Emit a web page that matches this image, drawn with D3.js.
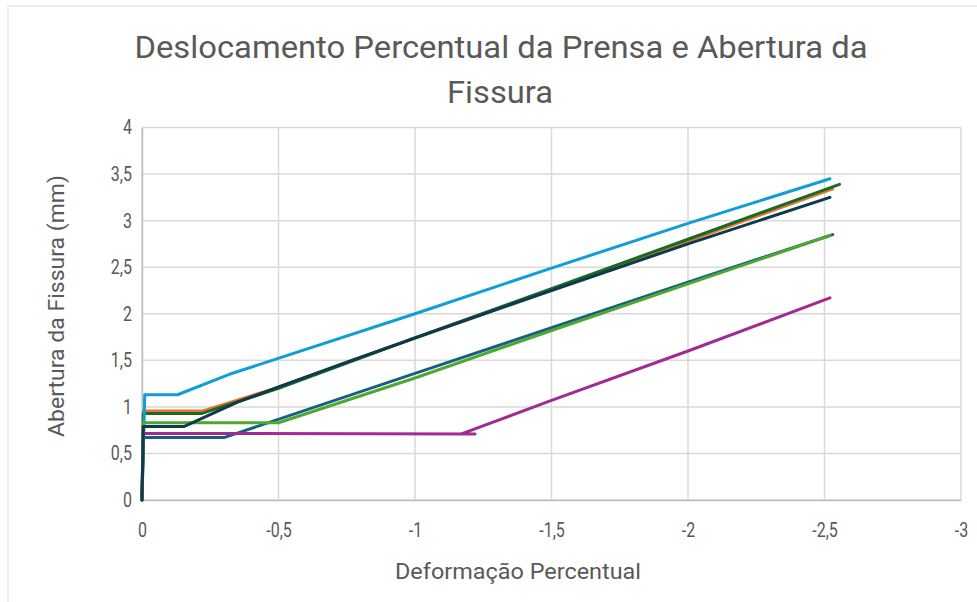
<!DOCTYPE html>
<html>
<head>
<meta charset="utf-8">
<script src="https://cdn.jsdelivr.net/npm/d3@7/dist/d3.min.js"></script>
<style>
  html, body { margin: 0; padding: 0; background: #fff; }
  svg { display: block; }
  text { font-family: Roboto, sans-serif; fill: #595959; }
</style>
</head>
<body>
<svg id="chart" width="977" height="602"></svg>
<script>
// ---- data (x = Deformação Percentual, y = Abertura da Fissura mm) ----
const seriesNames = ["S1", "S2", "S3", "S4", "S5", "S6", "S7"];
const seriesColors = ["#156082", "#E97132", "#196B24", "#0F9ED5", "#A02B93", "#4EA72E", "#0D3A4E"];

const s1x = [0, -0.005, -0.30, -1.0, -1.5, -2.0, -2.53];
const s1y = [0, 0.67, 0.67, 1.36, 1.85, 2.34, 2.85];

const s2x = [0, -0.005, -0.22, -0.5, -1.0, -1.5, -2.0, -2.53];
const s2y = [0, 0.955, 0.955, 1.21, 1.74, 2.26, 2.78, 3.34];

const s3x = [0, -0.005, -0.22, -0.5, -1.0, -1.5, -2.0, -2.555];
const s3y = [0, 0.93, 0.93, 1.2, 1.74, 2.27, 2.8, 3.39];

const s4x = [0, -0.01, -0.13, -0.32, -1.0, -1.5, -2.0, -2.52];
const s4y = [0, 1.13, 1.13, 1.35, 2.0, 2.49, 2.97, 3.45];

const s5x = [0, -0.005, -1.22, -1.17, -1.5, -2.0, -2.52];
const s5y = [0, 0.715, 0.71, 0.71, 1.07, 1.6, 2.17];

const s6x = [0, -0.005, -0.5, -1.0, -1.5, -2.0, -2.52];
const s6y = [0, 0.83, 0.83, 1.31, 1.82, 2.32, 2.84];

const s7x = [0, -0.005, -0.155, -0.35, -0.5, -0.75, -1.0, -1.5, -2.0, -2.52];
const s7y = [0, 0.79, 0.79, 1.05, 1.215, 1.48, 1.74, 2.25, 2.75, 3.25];

const xTicks = [0, -0.5, -1, -1.5, -2, -2.5, -3];
const xTickLabels = ["0", "-0,5", "-1", "-1,5", "-2", "-2,5", "-3"];
const yTicks = [0, 0.5, 1, 1.5, 2, 2.5, 3, 3.5, 4];
const yTickLabels = ["0", "0,5", "1", "1,5", "2", "2,5", "3", "3,5", "4"];

const titleLines = ["Deslocamento Percentual da Prensa e Abertura da", "Fissura"];
const xTitle = "Deformação Percentual";
const yTitle = "Abertura da Fissura (mm)";

// ---- layout ----
const svg = d3.select("#chart");
const W = 977, H = 602;
const plot = { left: 142, right: 961, top: 127.5, bottom: 500 };

const x = d3.scaleLinear().domain([0, -3]).range([plot.left, plot.right]);
const y = d3.scaleLinear().domain([0, 4]).range([plot.bottom, plot.top]);

// chart border
svg.append("path")
  .attr("d", `M8,${H + 2} L8,6 L${W + 2},6`)
  .attr("fill", "none").attr("stroke", "#d9d9d9").attr("stroke-width", 1);

// title
svg.append("text").attr("x", 501).attr("y", 58).attr("text-anchor", "middle")
  .attr("font-size", 31).attr("textLength", 733).attr("lengthAdjust", "spacingAndGlyphs")
  .text(titleLines[0]);
svg.append("text").attr("x", 500).attr("y", 103).attr("text-anchor", "middle")
  .attr("font-size", 31).attr("textLength", 106).attr("lengthAdjust", "spacingAndGlyphs")
  .text(titleLines[1]);

// gridlines
const gx = svg.append("g");
gx.selectAll("line.h").data(yTicks).join("line")
  .attr("x1", plot.left).attr("x2", plot.right)
  .attr("y1", d => y(d)).attr("y2", d => y(d))
  .attr("stroke", "#d9d9d9").attr("stroke-width", 1.5);
gx.selectAll("line.v").data(xTicks).join("line")
  .attr("y1", plot.top).attr("y2", plot.bottom)
  .attr("x1", d => x(d)).attr("x2", d => x(d))
  .attr("stroke", "#d9d9d9").attr("stroke-width", 1.5);

// axes
const xAxis = d3.axisBottom(x).tickValues(xTicks)
  .tickFormat((d, i) => xTickLabels[i]).tickSize(0).tickPadding(23);
const gxa = svg.append("g").attr("transform", `translate(0,${plot.bottom})`).call(xAxis);
gxa.select(".domain").attr("stroke", "#bfbfbf").attr("stroke-width", 1.5);
gxa.selectAll("text").attr("font-size", 20).attr("fill", "#595959")
  .style("font-family", "Roboto, sans-serif");

const yAxis = d3.axisLeft(y).tickValues(yTicks)
  .tickFormat((d, i) => yTickLabels[i]).tickSize(0).tickPadding(10);
const gya = svg.append("g").attr("transform", `translate(${plot.left},0)`).call(yAxis);
gya.select(".domain").attr("stroke", "#bfbfbf").attr("stroke-width", 1.5);
gya.selectAll("text").attr("font-size", 20).attr("fill", "#595959")
  .style("font-family", "Roboto, sans-serif");

// emulate the narrow Office font on tick labels
svg.selectAll(".tick text").each(function () {
  const len = this.getComputedTextLength();
  d3.select(this).attr("textLength", len * 0.8).attr("lengthAdjust", "spacingAndGlyphs");
});

// axis titles
svg.append("text").attr("x", 518).attr("y", 579).attr("text-anchor", "middle")
  .attr("font-size", 22).attr("textLength", 246).attr("lengthAdjust", "spacingAndGlyphs")
  .text(xTitle);
svg.append("text").attr("transform", "translate(64,306) rotate(-90)")
  .attr("text-anchor", "middle").attr("font-size", 22)
  .attr("textLength", 262).attr("lengthAdjust", "spacingAndGlyphs").text(yTitle);

// series
const allX = [s1x, s2x, s3x, s4x, s5x, s6x, s7x];
const allY = [s1y, s2y, s3y, s4y, s5y, s6y, s7y];
const line = d3.line().x(d => x(d[0])).y(d => y(d[1]));
const gl = svg.append("g");
seriesNames.forEach((name, i) => {
  const pts = allX[i].map((v, j) => [v, allY[i][j]]);
  gl.append("path").datum(pts)
    .attr("d", line)
    .attr("fill", "none")
    .attr("stroke", seriesColors[i])
    .attr("stroke-width", 3)
    .attr("stroke-linejoin", "round")
    .attr("stroke-linecap", "round");
});
</script>
</body>
</html>
